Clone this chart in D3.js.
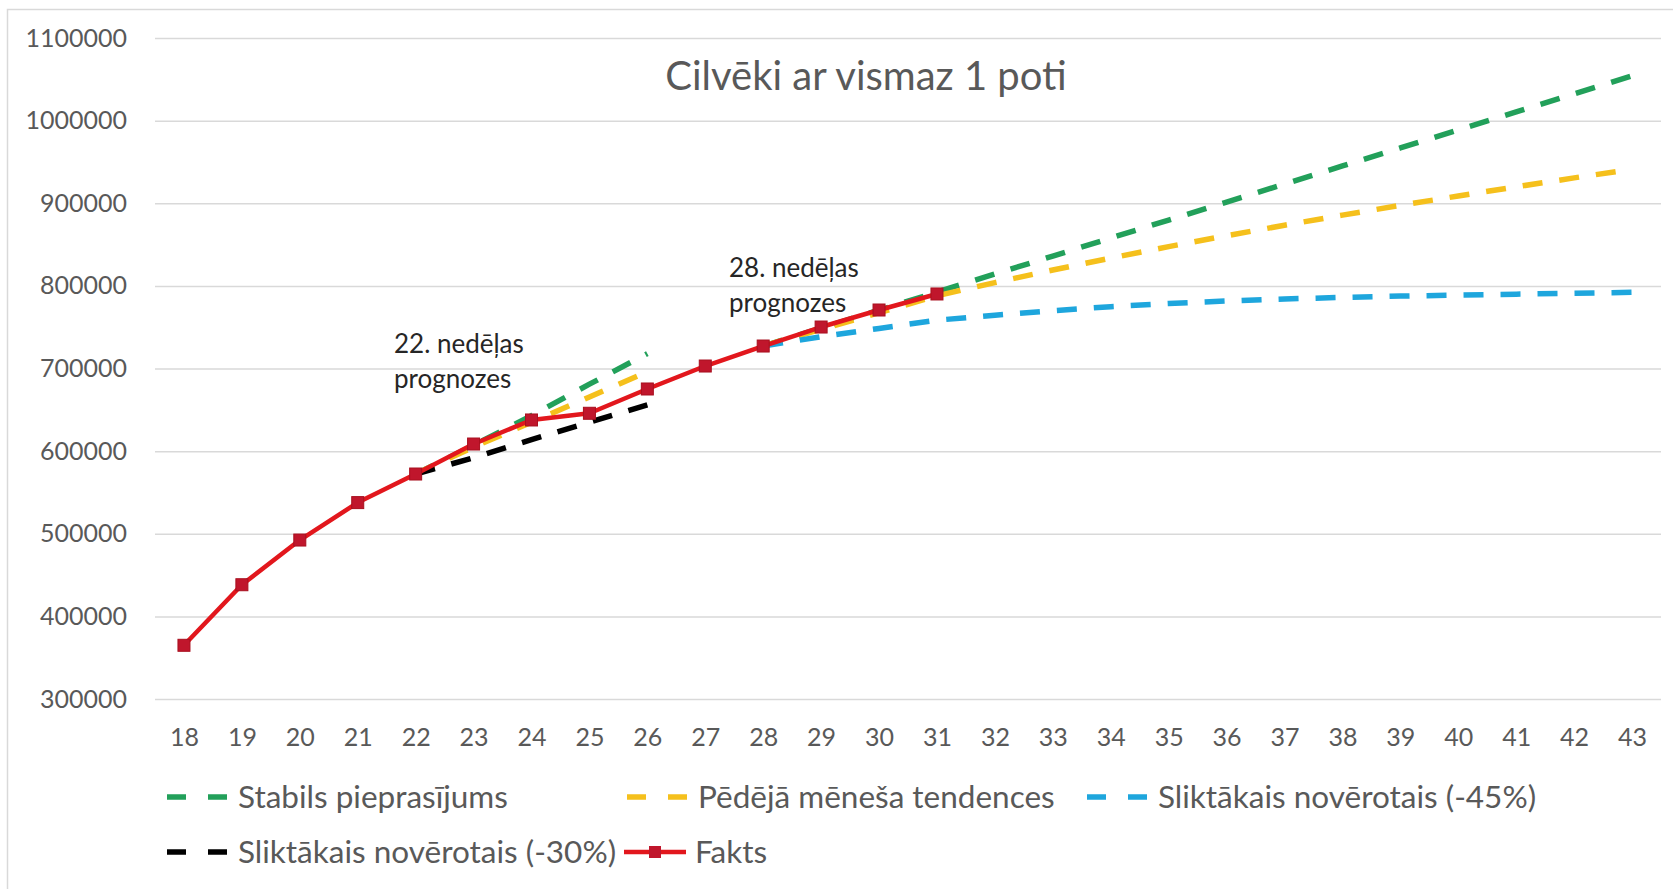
<!DOCTYPE html>
<html>
<head>
<meta charset="utf-8">
<script src="https://cdn.jsdelivr.net/npm/d3@7"></script>
<style>
  body { margin: 0; background: #fff; }
  svg { display: block; font-family: Lato, 'Open Sans', sans-serif; }
  .grid line { stroke: #d9d9d9; stroke-width: 1.5px; }
  .axis text { fill: #595959; font-size: 25px; }
</style>
</head>
<body>
<svg width="1673" height="889"></svg>
<script>
// weeks on the x axis
const weeks = [18, 19, 20, 21, 22, 23, 24, 25, 26, 27, 28, 29, 30, 31,
    32, 33, 34, 35, 36, 37, 38, 39, 40, 41, 42, 43];
const yTicks = [300000, 400000, 500000, 600000, 700000, 800000, 900000, 1000000, 1100000];

// actual values, weeks 18..31
const fakts = [365000, 438300, 492400, 537700, 572300, 608600, 637700, 645800,
    675200, 703000, 727200, 750200, 770800, 790200];

// week 22 forecasts (weeks 22..26)
const stabils22 = [572300, 607000, 643000, 681000, 718000];
const tendence22 = [572300, 605000, 635000, 665500, 696000];
const slikt30 = [572300, 592000, 614000, 635000, 656000];

// week 28 forecasts (weeks 28..43)
const stabils28 = [727200, 749000, 770500, 792500, 814300, 836100, 857900, 879700,
    901500, 923300, 945100, 966900, 988700, 1010500, 1032300, 1054100];
const tendence28 = [727200, 747500, 767500, 788000, 804000, 819200, 833700, 847500,
    860700, 873400, 885600, 897400, 908800, 919900, 930700, 941200];
const slikt45 = [727200, 738500, 748500, 758500, 764500, 770000, 774800, 778700,
    781800, 784200, 786000, 787600, 788900, 790000, 791100, 792200];

const legendNames = ['Stabils pieprasījums', 'Pēdējā mēneša tendences',
    'Sliktākais novērotais (-45%)', 'Sliktākais novērotais (-30%)', 'Fakts'];

const colors = {
    green: '#22a05a',
    yellow: '#f5c01c',
    blue: '#1ea6dd',
    black: '#000000',
    red: '#e2171d',
    marker: '#c0162c'
};

let svg = d3.select('svg');

// chart area border
svg.append('rect')
    .attr('x', 7.5).attr('y', 9.5)
    .attr('width', 1700).attr('height', 900)
    .attr('fill', 'none')
    .attr('stroke', '#d9d9d9')
    .attr('stroke-width', 1.5);

let x = d3.scalePoint().domain(weeks).range([155, 1661]).padding(0.5);
let y = d3.scaleLinear().domain([300000, 1100000]).range([699, 38]);

// y gridlines + labels
svg.append('g')
    .attr('class', 'grid axis')
    .attr('transform', 'translate(155,0)')
    .call(d3.axisLeft(y).tickValues(yTicks).tickSize(-(1661 - 155))
        .tickPadding(28).tickFormat(d3.format('d')))
    .call(g => g.select('.domain').remove());

// x labels
svg.append('g')
    .attr('class', 'axis')
    .attr('transform', 'translate(0,699)')
    .call(d3.axisBottom(x).tickSize(0).tickPadding(29))
    .call(g => g.select('.domain').remove());

svg.selectAll('.axis text').attr('font-family', 'Lato, sans-serif');

// title
svg.append('text')
    .attr('x', 866).attr('y', 90)
    .attr('text-anchor', 'middle')
    .attr('fill', '#595959')
    .attr('font-size', 40)
    .text('Cilvēki ar vismaz 1 poti');

function toPoints(values, startWeek) {
    return values.map((v, i) => ({ week: startWeek + i, value: v }));
}

let line = d3.line()
    .x(d => x(d.week))
    .y(d => y(d.value));

let dashed = [
    { data: toPoints(stabils22, 22), color: colors.green },
    { data: toPoints(tendence22, 22), color: colors.yellow },
    { data: toPoints(slikt30, 22), color: colors.black },
    { data: toPoints(stabils28, 28), color: colors.green },
    { data: toPoints(tendence28, 28), color: colors.yellow },
    { data: toPoints(slikt45, 28), color: colors.blue }
];

svg.append('g')
    .selectAll('path')
    .data(dashed)
    .enter()
    .append('path')
    .attr('d', d => line(d.data))
    .attr('fill', 'none')
    .attr('stroke', d => d.color)
    .attr('stroke-width', 5.5)
    .attr('stroke-dasharray', '20,17');

let faktsPoints = toPoints(fakts, 18);

svg.append('path')
    .datum(faktsPoints)
    .attr('d', line)
    .attr('fill', 'none')
    .attr('stroke', colors.red)
    .attr('stroke-width', 4.5)
    .attr('stroke-linejoin', 'round');

svg.append('g')
    .selectAll('rect')
    .data(faktsPoints)
    .enter()
    .append('rect')
    .attr('x', d => x(d.week) - 6)
    .attr('y', d => y(d.value) - 6)
    .attr('width', 12)
    .attr('height', 12)
    .attr('fill', colors.marker)
    .attr('stroke', '#a8101f')
    .attr('stroke-width', 1);

// annotations
let notes = [
    { lines: ['22. nedēļas', 'prognozes'], x: 394, y: 353 },
    { lines: ['28. nedēļas', 'prognozes'], x: 729, y: 277 }
];
notes.forEach(n => {
    svg.append('text')
        .attr('font-size', 26)
        .attr('fill', '#262626')
        .selectAll('tspan')
        .data(n.lines)
        .enter()
        .append('tspan')
        .attr('x', n.x)
        .attr('y', (d, i) => n.y + i * 35)
        .text(d => d);
});

// legend
let legendItems = [
    { name: legendNames[0], color: colors.green, x: 167, y: 797 },
    { name: legendNames[1], color: colors.yellow, x: 627, y: 797 },
    { name: legendNames[2], color: colors.blue, x: 1087, y: 797 },
    { name: legendNames[3], color: colors.black, x: 167, y: 852 },
    { name: legendNames[4], color: colors.red, x: 624, y: 852, marker: true }
];

let legend = svg.append('g')
    .selectAll('g')
    .data(legendItems)
    .enter()
    .append('g')
    .attr('transform', d => `translate(${d.x},${d.y})`);

legend.append('line')
    .attr('x1', 0).attr('x2', 62)
    .attr('stroke', d => d.color)
    .attr('stroke-width', d => d.marker ? 4.5 : 5.5)
    .attr('stroke-dasharray', d => d.marker ? null : '19,22');

legend.filter(d => d.marker)
    .append('rect')
    .attr('x', 25).attr('y', -6)
    .attr('width', 12).attr('height', 12)
    .attr('fill', colors.marker);

legend.append('text')
    .attr('x', 71)
    .attr('dy', '0.35em')
    .attr('font-size', 31.5)
    .attr('fill', '#595959')
    .text(d => d.name);
</script>
</body>
</html>
